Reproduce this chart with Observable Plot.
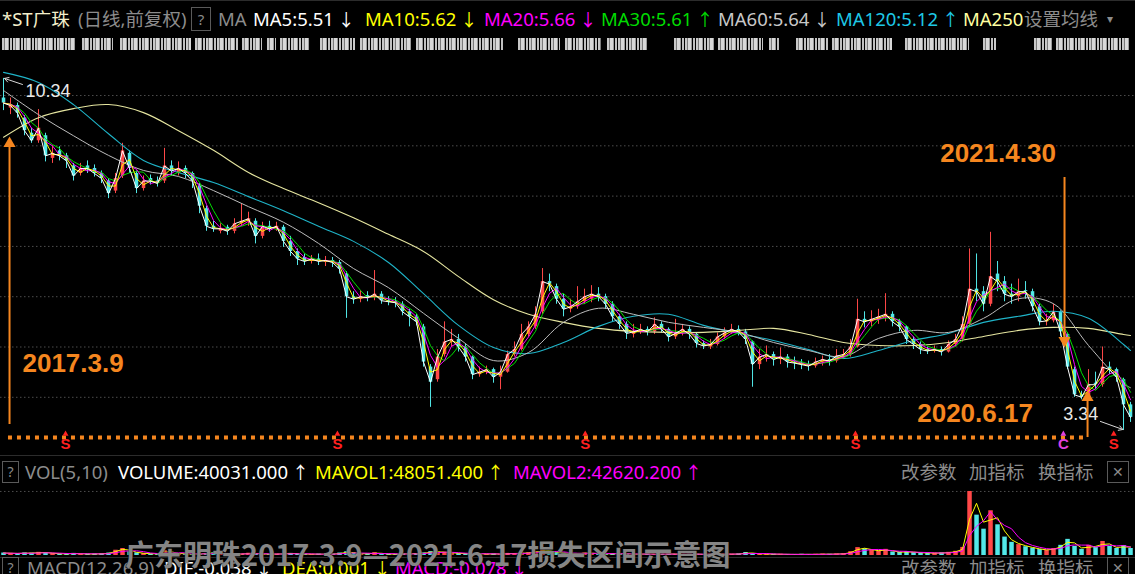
<!DOCTYPE html>
<html><head><meta charset="utf-8">
<script src="https://cdn.jsdelivr.net/npm/d3@7"></script>
<script src="https://cdn.jsdelivr.net/npm/@observablehq/plot@0.6"></script>
<style>
html,body{margin:0;padding:0;background:#000;overflow:hidden}
#root{position:relative;width:1135px;height:574px;overflow:hidden;background:#000;font-family:"Noto Sans","Noto Sans CJK SC",sans-serif}
.t{position:absolute;white-space:nowrap;line-height:1;transform:translateY(-50%)}
.box{position:absolute;border:1px solid #5a5a5a;box-sizing:border-box;color:#8a8a8a;text-align:center;font-size:15px}
.hl{position:absolute;left:0;width:1135px;height:1px;background:#2c2c2c}
.ob{position:absolute;height:12px;top:38px;
  background-image:repeating-linear-gradient(90deg,#c8c8c8 0 2px,#7a7a7a 2px 3px,#d8d8d8 3px 6px,#9a9a9a 6px 7px,transparent 7px 8px,#c0c0c0 8px 10px,transparent 10px 11px),
  repeating-linear-gradient(0deg,rgba(0,0,0,0.55) 0 1px,transparent 1px 4px)}
</style></head><body><div id="root"></div><script>
// ---------- data ----------
const open = [9.95,9.75,9.80,9.55,9.25,9.10,9.20,8.75,8.90,8.80, 8.60,8.45,8.60,8.55,8.45,8.30,8.10,8.40,8.85,8.45, 8.15,8.35,8.30,8.30,8.60,8.45,8.55,8.45,8.20,7.75, 7.40,7.30,7.38,7.30,7.45,7.50,7.50,7.20,7.40,7.35, 7.38,7.10,6.90,6.78,6.70,6.75,6.68,6.72,6.68,6.45, 6.00,5.95,6.02,5.98,6.05,5.92,5.90,5.85,5.70,5.60, 5.40,4.60,4.35,4.85,5.10,5.15,5.00,4.80,4.45,4.50, 4.55,4.40,4.50,4.85,4.95,5.25,5.40,5.70,6.30,6.20, 5.95,5.75,5.80,5.90,5.95,6.05,6.00,5.85,5.60,5.45, 5.25,5.30,5.35,5.30,5.45,5.35,5.20,5.27,5.35,5.25, 5.07,5.00,5.05,5.20,5.28,5.35,5.30,5.10,4.65,4.80, 4.85,4.75,4.80,4.70,4.68,4.65,4.62,4.70,4.75,4.72, 4.82,4.85,5.00,5.55,5.50,5.55,5.60,5.65,5.50,5.40, 5.15,5.05,4.95,4.92,4.95,4.90,5.05,5.15,5.45,6.15, 6.10,5.85,6.45,6.30,6.05,6.00,6.12,6.10,5.80,5.50, 5.52,5.70,5.25,4.55,4.05,4.00,4.28,4.25,4.60,4.55, 4.35,3.85];
const close = [9.85,9.80,9.65,9.30,9.10,9.35,8.80,8.85,8.80,8.70, 8.40,8.55,8.55,8.45,8.35,8.05,8.35,8.90,8.55,8.15, 8.30,8.30,8.25,8.60,8.50,8.55,8.45,8.30,7.80,7.40, 7.35,7.35,7.30,7.45,7.50,7.55,7.20,7.40,7.35,7.40, 7.10,6.90,6.75,6.70,6.75,6.70,6.72,6.68,6.55,6.00, 5.95,6.00,5.98,6.05,5.92,5.90,5.88,5.70,5.60,5.50, 4.70,4.30,4.80,5.10,5.15,5.00,4.80,4.45,4.50,4.55, 4.40,4.50,4.85,4.95,5.25,5.40,5.65,6.30,6.25,5.95, 5.75,5.80,5.90,6.00,6.05,6.00,5.85,5.60,5.45,5.27, 5.30,5.35,5.30,5.45,5.35,5.20,5.27,5.35,5.25,5.07, 5.02,5.05,5.20,5.28,5.35,5.30,5.15,4.65,4.80,4.85, 4.75,4.80,4.70,4.68,4.65,4.62,4.70,4.75,4.72,4.82, 4.85,5.00,5.55,5.50,5.55,5.60,5.65,5.50,5.40,5.15, 5.05,4.95,4.92,4.95,4.90,5.05,5.15,5.45,6.15,6.10, 5.85,6.40,6.30,6.05,6.00,6.10,6.10,5.80,5.50,5.52, 5.70,5.30,4.60,4.05,4.00,4.25,4.25,4.60,4.55,4.40, 3.85,3.60];
const high = [10.34,9.95,9.85,9.60,9.35,9.72,9.25,9.00,8.98,8.85, 8.65,8.65,8.70,8.62,8.50,8.35,8.45,9.05,8.90,8.50, 8.40,8.42,8.38,8.95,8.70,8.68,8.60,8.48,8.25,7.80, 7.50,7.45,7.42,7.55,7.85,7.68,7.55,7.48,7.50,7.48, 7.42,7.20,6.95,6.85,6.82,6.85,6.80,6.78,6.72,6.50, 6.10,6.12,6.10,6.52,6.10,6.00,5.98,5.90,5.75,5.65, 5.45,4.65,4.95,5.50,5.35,5.25,5.05,4.82,4.60,4.62, 4.58,4.62,4.92,5.10,5.45,5.50,5.80,6.56,6.45,6.25, 6.05,5.95,6.20,6.15,6.22,6.18,6.05,5.90,5.65,5.50, 5.45,5.45,5.40,5.58,5.50,5.38,5.55,5.45,5.40,5.28, 5.12,5.15,5.28,5.38,5.45,5.42,5.35,5.12,4.95,5.02, 4.90,4.98,4.85,4.80,4.75,4.72,4.78,4.82,4.85,4.95, 4.95,5.15,5.95,5.70,5.72,5.75,6.06,5.70,5.55,5.42, 5.20,5.10,5.00,5.02,5.00,5.12,5.25,5.60,6.95,6.85, 6.20,7.28,6.70,6.40,6.25,6.35,6.30,6.15,5.85,5.65, 5.85,5.72,5.28,4.60,4.12,4.55,4.50,5.00,4.70,4.58, 4.38,3.90];
const low = [9.70,9.62,9.55,9.20,9.05,9.05,8.68,8.65,8.70,8.55, 8.30,8.40,8.45,8.38,8.25,7.95,8.05,8.35,8.45,8.05, 8.10,8.22,8.18,8.25,8.40,8.40,8.35,8.15,7.65,7.30, 7.28,7.25,7.22,7.25,7.40,7.40,7.05,7.15,7.28,7.30, 6.98,6.80,6.62,6.62,6.65,6.62,6.60,6.58,6.45,5.57, 5.85,5.88,5.90,5.92,5.85,5.82,5.78,5.62,5.40,5.42, 4.60,3.80,4.30,4.80,5.00,4.90,4.70,4.35,4.40,4.45, 4.28,4.15,4.48,4.80,4.92,5.20,5.35,5.65,6.10,5.85, 5.60,5.68,5.75,5.85,5.88,5.90,5.75,5.50,5.35,5.15, 5.18,5.25,5.22,5.25,5.28,5.10,5.15,5.22,5.15,4.98, 4.95,4.95,5.02,5.15,5.25,5.22,5.05,4.20,4.55,4.70, 4.62,4.65,4.58,4.55,4.55,4.52,4.58,4.62,4.62,4.68, 4.75,4.80,4.98,5.38,5.40,5.45,5.50,5.40,5.30,5.05, 4.95,4.85,4.85,4.88,4.82,4.88,5.00,5.10,5.40,5.90, 5.70,5.80,6.10,5.90,5.85,5.90,5.95,5.70,5.42,5.42, 5.48,5.20,4.55,4.00,3.95,3.98,4.15,4.20,4.45,4.30, 3.34,3.50];
const volume = [14000,12000,11000,15000,13000,18000,16000,11000,9000,10000, 12000,9000,8000,9000,10000,14000, 30000,40000,22000, 15000,11000,9000,10000, 28000,
 14000,10000,9000,8000,9000,12000,16000,11000,8000,7000,9000,13000,10000,8000,7000,8000,11000,12000,9000,8000,7000,8000,7000,8000,
 14000,22000, 12000,9000,10000,16000,9000,8000,7000,9000,11000,9000,15000, 22000,20000,18000,
 14000,11000,10000,12000,9000,8000,9000,8000,12000,11000,14000,15000, 22000,30000,24000,
 16000,13000,10000,12000,14000,12000,11000,9000,10000,11000, 8000,7000,8000,9000,7000,8000,9000,7000,8000,9000, 7000,6000,8000,9000,8000,7000,9000,17000,11000,9000, 8000,7000,7000,6000,6000,7000,6000,7000,8000,7000, 9000,10000,
 22000,45000,38000,30000,25000,35000, 20000,18000,22000,17000,15000,14000,13000,15000,18000,24000,
 46000,365000,230000,150000,255000,175000,105000,75000,62000,50000,42000,34000,30000,40000,58000,92000,52000,35000,58000,46000,80000,52000,40000,57000,40031];
// moving-average curves read at every 5th candle
const maIdx = [0,5,10,15,20,25,30,35,40,45,50,55,60,65,70,75,80,85,90,95,100,105,110,115,120,125,130,135,140,145,150,155,160,161];
const ma60 = [10.10,9.62,9.20,8.81,8.51,8.39,8.11,7.79,7.48,7.06, 6.56,6.18,5.67,5.17,4.73,4.89,5.49,5.77,5.65,5.49, 5.39,5.29,5.09,4.93,4.81,5.17,5.33,5.29,5.57,5.96, 5.86,5.03,4.27,4.19];
const ma120 = [10.46,10.26,9.82,9.24,8.71,8.47,8.27,7.99,7.71,7.40, 7.10,6.68,6.06,5.43,4.99,4.87,5.09,5.41,5.61,5.65, 5.43,5.27,5.13,4.95,4.77,4.93,5.13,5.27,5.49,5.61, 5.71,5.57,5.05,4.93];
const ma250 = [9.17,9.56,9.74,9.82,9.66,9.30,8.91,8.47,8.15,7.87, 7.57,7.24,6.90,6.40,5.94,5.65,5.49,5.37,5.31,5.29, 5.29,5.33,5.37,5.25,5.09,5.03,5.03,5.09,5.21,5.33, 5.39,5.37,5.25,5.23];
const gridPrices = [4,5,6,7,8,9,10];
const signalIdx = [8.86, 47.7, 83.1, 121.7, 158.6];
const signalC = [151.4];
const maLabels = ["MA5","MA10","MA20","MA30","MA60","MA120"];
const maLast = ["5.51","5.62","5.66","5.61","5.64","5.12"];
const maDir = ["↓","↓","↓","↑","↓","↑"];
const volLabels = ["VOLUME:40031.000","MAVOL1:48051.400","MAVOL2:42620.200"];
const macdLabels = ["DIF:-0.038","DEA:0.001","MACD:-0.078"];
const title = "广东明珠2017.3.9—2021.6.17损失区间示意图";

// ---------- build ----------
const root = document.getElementById("root");
const FS = 18.5;
function put(txt, x, y, color, size = FS, weight = "normal", fam) {
  const s = document.createElement("span");
  s.className = "t"; s.textContent = txt;
  s.style.left = x + "px"; s.style.top = y + "px"; s.style.color = color;
  s.style.fontSize = size + "px"; s.style.fontWeight = weight;
  if (fam) s.style.fontFamily = fam;
  root.appendChild(s); return s;
}
// label followed by its direction arrow, placed just after the label
function labelArrow(txt, arrow, x, y, color) {
  const s = put(txt, x, y, color);
  const w = s.getBoundingClientRect().width;
  put(arrow, x + w + 4, y, color, 17);
}
function box(x, y, w, h, txt, size = 15) {
  const b = document.createElement("div");
  b.className = "box"; b.textContent = txt;
  Object.assign(b.style, {left: x + "px", top: y + "px", width: w + "px", height: h + "px", lineHeight: (h - 2) + "px", fontSize: size + "px"});
  root.appendChild(b);
}
function hline(y) { const d = document.createElement("div"); d.className = "hl"; d.style.top = y + "px"; root.appendChild(d); }

const maColors = ["#ffffff", "#ffff00", "#ff00ff", "#00dc00", "#c8c8c8", "#1ec8e6"];
const c250 = "#ffffa0";

// header row
hline(0);
put("*ST广珠", 2, 19, "#f4f0cc");
put("(日线,前复权)", 78, 19, "#8c8c8c");
box(191, 7, 20, 24, "?");
put("MA", 218, 19, "#8c8c8c");
const maX = [253, 365, 484, 601, 718, 836];
maLabels.forEach((m, k) => labelArrow(m + ":" + maLast[k], maDir[k], maX[k], 19, maColors[k]));
put("MA250", 963, 19, c250);
put("设置均线", 1024, 19, "#8c8c8c");
put("▾", 1107, 19, "#8c8c8c", 12);

// obfuscated (mosaic) second row
const obSegs = [[2,76],[82,113],[120,191],[195,238],[242,262],[267,276],[280,309],[320,355],[360,411],[416,504],[518,560],[565,601],[607,647],[674,714],[718,763],[769,780],[796,829],[832,892],[905,969],[983,996],[1034,1052],[1056,1130]];
obSegs.forEach(([a, b]) => {
  const d = document.createElement("div"); d.className = "ob";
  d.style.left = a + "px"; d.style.width = (b - a) + "px";
  root.appendChild(d);
});

// ---------- main price chart ----------
const N = close.length;
const candles = d3.range(N).map(i => ({i, o: open[i], c: close[i], h: high[i], l: low[i], v: volume[i]}));
const maRows = maIdx.map((i, k) => ({i, m60: ma60[k], m120: ma120[k], m250: ma250[k]}));
const up = "#ff4848", down = "#52e8e8";
const candleColor = d => d.c >= d.o ? up : down;
const orange = "#f5861f";
const xDom = [-0.43, 161.71];
const bold = {fontFamily: "Liberation Sans, Arial, sans-serif", fontWeight: "bold", fill: orange, fontSize: 26, lineAnchor: "middle"};
const one = [0];
const maxHigh = d3.max(high), minLow = d3.min(low);
const iMax = high.indexOf(maxHigh), iMin = low.indexOf(minLow);

const main = Plot.plot({
  width: 1135, height: 398, margin: 0,
  x: {domain: xDom, axis: null},
  y: {domain: [2.823, 10.736], axis: null},
  color: {type: "identity"},
  style: {background: "transparent", overflow: "visible"},
  marks: [
    Plot.ruleY(gridPrices, {stroke: "#4d4d4d", strokeDasharray: "1.5 2.5"}),
    Plot.ruleX(candles, {x: "i", y1: "l", y2: "h", stroke: candleColor, strokeWidth: 1}),
    Plot.ruleX(candles, {x: "i", y1: "o", y2: "c", stroke: candleColor, strokeWidth: 3.5}),
    Plot.line(maRows, {x: "i", y: "m250", stroke: "#e6e6a0", strokeWidth: 1.1, curve: "catmull-rom"}),
    Plot.line(maRows, {x: "i", y: "m120", stroke: "#1fb4c8", strokeWidth: 1.1, curve: "catmull-rom"}),
    Plot.line(maRows, {x: "i", y: "m60", stroke: "#bdbdbd", strokeWidth: 1, curve: "catmull-rom"}),
    Plot.lineY(candles, Plot.windowY({k: 4, anchor: "end"}, {x: "i", y: "c", stroke: maColors[3], strokeWidth: 1})),
    Plot.lineY(candles, Plot.windowY({k: 3, anchor: "end"}, {x: "i", y: "c", stroke: maColors[2], strokeWidth: 1})),
    Plot.lineY(candles, Plot.windowY({k: 2, anchor: "end"}, {x: "i", y: "c", stroke: maColors[1], strokeWidth: 1})),
    Plot.lineY(candles, {x: "i", y: "c", stroke: "#ffffff", strokeWidth: 1}),
    // max / min markers
    Plot.arrow(one, {x1: 2.71, y1: 10.22, x2: iMax + 0.14, y2: maxHigh, stroke: "#d8d8d8", strokeWidth: 1, headLength: 7}),
    Plot.text(one, {x: 3.14, y: 10.08, text: () => maxHigh.toFixed(2), fill: "#e8e8e8", fontSize: 18, textAnchor: "start", lineAnchor: "middle", fontFamily: "Liberation Sans, Arial, sans-serif"}),
    Plot.arrow(one, {x1: 156.7, y1: 3.52, x2: iMin - 0.1, y2: minLow + 0.02, stroke: "#d8d8d8", strokeWidth: 1, headLength: 7}),
    Plot.text(one, {x: 151.4, y: 3.66, text: () => minLow.toFixed(2), fill: "#e8e8e8", fontSize: 18, textAnchor: "start", lineAnchor: "middle", fontFamily: "Liberation Sans, Arial, sans-serif"}),
    // orange annotations
    Plot.ruleY(one, {y: 3.20, x1: 0.71, x2: 154.86, stroke: orange, strokeWidth: 4, strokeDasharray: "4 5"}),
    Plot.ruleX(one, {x: 0.86, y1: 3.46, y2: 9.0, stroke: orange, strokeWidth: 2}),
    Plot.dot(one, {x: 0.86, y: 9.046, symbol: "triangle", r: 4.5, fill: orange, stroke: null}),
    Plot.ruleX(one, {x: 154.86, y1: 3.20, y2: 3.94, stroke: orange, strokeWidth: 2}),
    Plot.dot(one, {x: 154.86, y: 3.996, symbol: "triangle", r: 4.5, fill: orange, stroke: null}),
    Plot.ruleX(one, {x: 151.57, y1: 8.37, y2: 5.17, stroke: orange, strokeWidth: 2}),
    Plot.dot(one, {x: 151.57, y: 5.13, symbol: "triangle", r: 4.5, rotate: 180, fill: orange, stroke: null}),
    Plot.text(one, {...bold, x: 2.71, y: 4.67, text: () => "2017.3.9", textAnchor: "start"}),
    Plot.text(one, {...bold, x: 142.07, y: 8.847, text: () => "2021.4.30", textAnchor: "middle"}),
    Plot.text(one, {...bold, x: 138.79, y: 3.678, text: () => "2020.6.17", textAnchor: "middle"}),
    // signal markers
    Plot.dot(signalIdx, {x: d => d, y: 3.27, symbol: "triangle", r: 2.2, fill: "#ff2020", stroke: null}),
    Plot.text(signalIdx, {x: d => d, y: 3.06, text: () => "S", fill: "#ff2020", fontSize: 15, fontWeight: "bold", fontFamily: "Liberation Sans, Arial, sans-serif", lineAnchor: "middle"}),
    Plot.dot(signalC, {x: d => d, y: 3.27, symbol: "triangle", r: 2.2, fill: "#e040e0", stroke: null}),
    Plot.text(signalC, {x: d => d, y: 3.06, text: () => "C", fill: "#e040e0", fontSize: 15, fontWeight: "bold", fontFamily: "Liberation Sans, Arial, sans-serif", lineAnchor: "middle"})
  ]
});
const mainWrap = document.createElement("div");
Object.assign(mainWrap.style, {position: "absolute", left: "0px", top: "58px"});
mainWrap.appendChild(main); root.appendChild(mainWrap);

hline(455);

// ---------- volume panel ----------
box(2, 461, 17, 22, "?", 14);
put("VOL(5,10)", 25, 472, "#8c8c8c");
const volX = [118, 315, 513];
const volColors = ["#ffffff", "#ffff00", "#ff00ff"];
volLabels.forEach((t, k) => labelArrow(t, "↑", volX[k], 472, volColors[k]));
const btnX = [901, 969, 1038];
["改参数", "加指标", "换指标"].forEach((t, k) => put(t, btnX[k], 472, "#8c8c8c"));
box(1107, 461, 22, 22, "✕", 14);

const vol = Plot.plot({
  width: 1135, height: 76, margin: 0, marginBottom: 1,
  x: {domain: xDom, axis: null},
  y: {domain: [0, 427500], axis: null},
  color: {type: "identity"},
  style: {background: "transparent"},
  marks: [
    Plot.ruleY([365000], {stroke: "#4d4d4d", strokeDasharray: "1.5 2.5"}),
    Plot.ruleX(candles, {x: "i", y1: 0, y2: "v", stroke: candleColor, strokeWidth: 4.5}),
    Plot.lineY(candles, Plot.windowY({k: 2, anchor: "end"}, {x: "i", y: "v", stroke: "#ffff00", strokeWidth: 1})),
    Plot.lineY(candles, Plot.windowY({k: 4, anchor: "end"}, {x: "i", y: "v", stroke: "#ff00ff", strokeWidth: 1}))
  ]
});
const volWrap = document.createElement("div");
Object.assign(volWrap.style, {position: "absolute", left: "0px", top: "480px"});
volWrap.appendChild(vol); root.appendChild(volWrap);

hline(557);

// ---------- MACD header (cut by the window, as in the reference) ----------
box(2, 557, 17, 22, "?", 14);
put("MACD(12,26,9)", 27, 568, "#8c8c8c");
const macdX = [164, 282, 395];
macdLabels.forEach((t, k) => labelArrow(t, "↓", macdX[k], 568, volColors[k]));
["改参数", "加指标", "换指标"].forEach((t, k) => put(t, btnX[k], 568, "#8c8c8c"));
box(1107, 557, 22, 22, "✕", 14);

// ---------- watermark title ----------
const w = put(title, 125, 553, "#858585", 29, "bold", "\"Noto Sans CJK SC\", sans-serif");
w.style.zIndex = 5;
w.style.textShadow = "0 0 2px #000";
</script></body></html>
